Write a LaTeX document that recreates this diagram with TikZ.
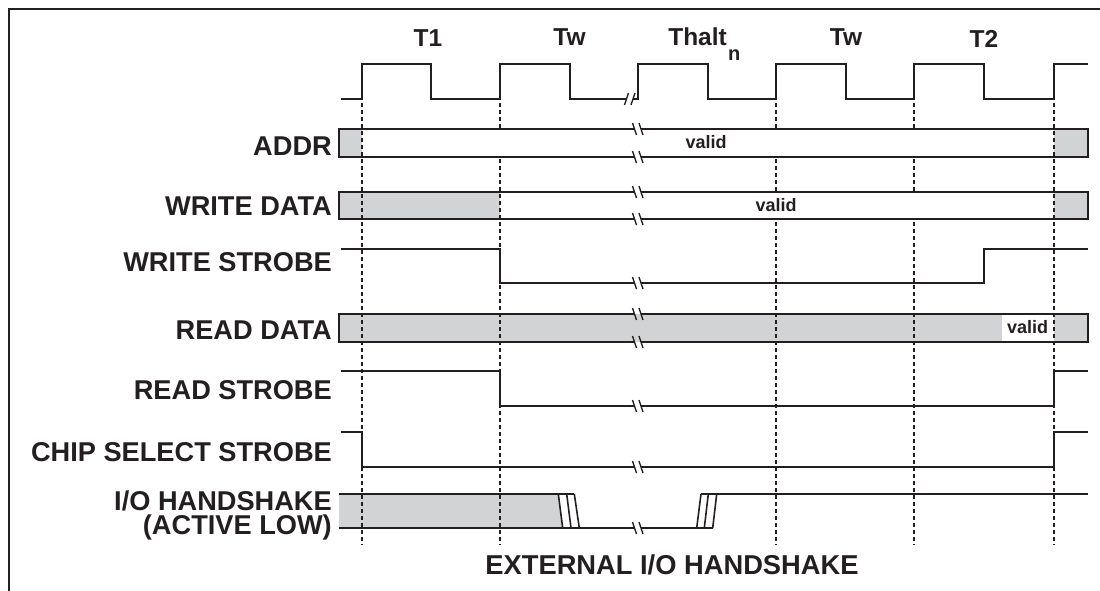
\documentclass[tikz,border=0pt]{standalone}
\usepackage{fontspec}
\setmainfont{Liberation Sans}
\definecolor{ink}{HTML}{231F20}
\definecolor{busgray}{HTML}{D1D3D4}
\newcommand{\bkbreak}[2]{%
  \draw[brk] (#1-5.25,#2-6) -- (#1-1.25,#2+6);
  \draw[brk] (#1+1.25,#2-6) -- (#1+5.25,#2+6);}
\newcommand{\fwbreak}[2]{%
  \draw[brk] (#1-5.25,#2+6) -- (#1-1.25,#2-6);
  \draw[brk] (#1+1.25,#2+6) -- (#1+5.25,#2-6);}
\begin{document}
\begin{tikzpicture}[x=1pt,y=-1pt,
  sig/.style={draw=ink, line width=2pt, line join=miter},
  brk/.style={draw=ink, line width=1.3pt},
  slant/.style={draw=ink, line width=1.6pt},
  grid/.style={draw=ink, line width=2pt, dash pattern=on 4pt off 3pt},
  lbl/.style={anchor=base east, font=\fontsize{27.2}{24}\selectfont\bfseries, text=ink, inner sep=0pt},
  phase/.style={anchor=base, font=\fontsize{24.5}{26}\selectfont\bfseries, text=ink, inner sep=0pt},
  val/.style={anchor=base, font=\fontsize{18}{20}\selectfont\bfseries, text=ink, inner sep=0pt},
  graybox/.style={fill=busgray, draw=none},
  whitebox/.style={fill=white, draw=none}]
\useasboundingbox (0,0) rectangle (1100,590);
% frame
\draw[draw=ink, line width=2pt] (9.3,595) -- (9.3,9.3) -- (1105,9.3);
% phase labels
\node[phase] (t1) at (428,46) {T1};
\node[phase] (tw1) at (569.5,45) {Tw};
\node[phase, anchor=base east] (thalt) at (727,45) {Thalt};
\node[anchor=base west, font=\fontsize{20}{22}\selectfont\bfseries, text=ink, inner sep=0pt] (tn) at (728,60) {n};
\node[phase] (tw2) at (846,45) {Tw};
\node[phase] (t2) at (984,47.5) {T2};
% signal labels
\node[lbl] (laddr) at (332,155) {ADDR};
\node[lbl] (lwd) at (332,215) {WRITE DATA};
\node[lbl] (lws) at (332,271) {WRITE STROBE};
\node[lbl] (lrd) at (332,339) {READ DATA};
\node[lbl] (lrs) at (332,399) {READ STROBE};
\node[lbl] (lcs) at (332,461) {CHIP SELECT STROBE};
\node[lbl, align=right] (lio) at (332,534) {I/O HANDSHAKE\\(ACTIVE LOW)};
\node[anchor=base, font=\fontsize{27.3}{28}\selectfont\bfseries, text=ink, inner sep=0pt] (ext) at (672,574) {EXTERNAL I/O HANDSHAKE};
% gray fills
\fill[graybox] (339,129) rectangle (361.5,157);
\fill[graybox] (1054,129) rectangle (1088,157);
\fill[graybox] (339,192) rectangle (500,219);
\fill[graybox] (1054,192) rectangle (1088,219);
\fill[graybox] (339,314) rectangle (1088,342);
\fill[whitebox] (1002,314) rectangle (1054,342);
\fill[graybox] (339,494) -- (558.3,494) -- (562.7,528) -- (339,528) -- cycle;
% dashed cycle markers
\foreach \xx in {361.5,500,776,914,1054}
  \draw[grid] (\xx,103) -- (\xx,545);
% valid regions hide markers
\fill[whitebox] (362.5,130) rectangle (1053,156);
\fill[whitebox] (501,193) rectangle (1053,218);
% clock
\draw[sig] (341,99) -- (361.5,99) -- (361.5,64) -- (430.5,64) -- (430.5,99) -- (500,99) -- (500,64) -- (569.5,64) -- (569.5,99) -- (626.5,99);
\draw[sig] (633,99) -- (638,99) -- (638,64) -- (707.5,64) -- (707.5,99) -- (776,99) -- (776,64) -- (845.5,64) -- (845.5,99) -- (914,99) -- (914,64) -- (984,64) -- (984,99) -- (1054,99) -- (1054,64) -- (1088,64);
\fwbreak{629.75}{99}
% ADDR
\draw[sig] (634.5,129) -- (339,129) -- (339,157) -- (634.5,157);
\draw[sig] (641,129) -- (1088,129) -- (1088,157) -- (641,157);
\bkbreak{637.75}{129}
\bkbreak{637.75}{157}
\node[val] (vaddr) at (706,148) {valid};
% WRITE DATA
\draw[sig] (634.5,192) -- (339,192) -- (339,219) -- (634.5,219);
\draw[sig] (641,192) -- (1088,192) -- (1088,219) -- (641,219);
\bkbreak{637.75}{192}
\bkbreak{637.75}{219}
\node[val] (vwd) at (776,211.5) {valid};
% WRITE STROBE
\draw[sig] (341,249) -- (500,249) -- (500,283) -- (634.5,283);
\draw[sig] (641,283) -- (984,283) -- (984,249) -- (1088,249);
\bkbreak{637.75}{283}
% READ DATA
\draw[sig] (634.5,314) -- (339,314) -- (339,342) -- (634.5,342);
\draw[sig] (641,314) -- (1088,314) -- (1088,342) -- (641,342);
\bkbreak{637.75}{314}
\bkbreak{637.75}{342}
\node[val] (vrd) at (1027.5,333) {valid};
% READ STROBE
\draw[sig] (341,371) -- (500,371) -- (500,406) -- (634.5,406);
\draw[sig] (641,406) -- (1054,406) -- (1054,371) -- (1088,371);
\bkbreak{637.75}{406}
% CHIP SELECT STROBE
\draw[sig] (341,432) -- (361.5,432) -- (361.5,467) -- (634.5,467);
\draw[sig] (641,467) -- (1054,467) -- (1054,432) -- (1088,432);
\bkbreak{637.75}{467}
% I/O HANDSHAKE
\draw[sig] (339,494) -- (574.3,494);
\draw[sig] (339,528) -- (634.5,528);
\draw[sig] (641,528) -- (712.7,528);
\draw[sig] (701,494) -- (1088,494);
\draw[slant] (558.3,494) -- (562.7,528);
\draw[slant] (566.7,494) -- (571,528);
\draw[slant] (574.3,494) -- (579.3,528);
\draw[slant] (696.7,528) -- (701,494);
\draw[slant] (704.3,528) -- (708.3,494);
\draw[slant] (712.7,528) -- (716.7,494);
\bkbreak{637.75}{528}
\end{tikzpicture}
\end{document}
